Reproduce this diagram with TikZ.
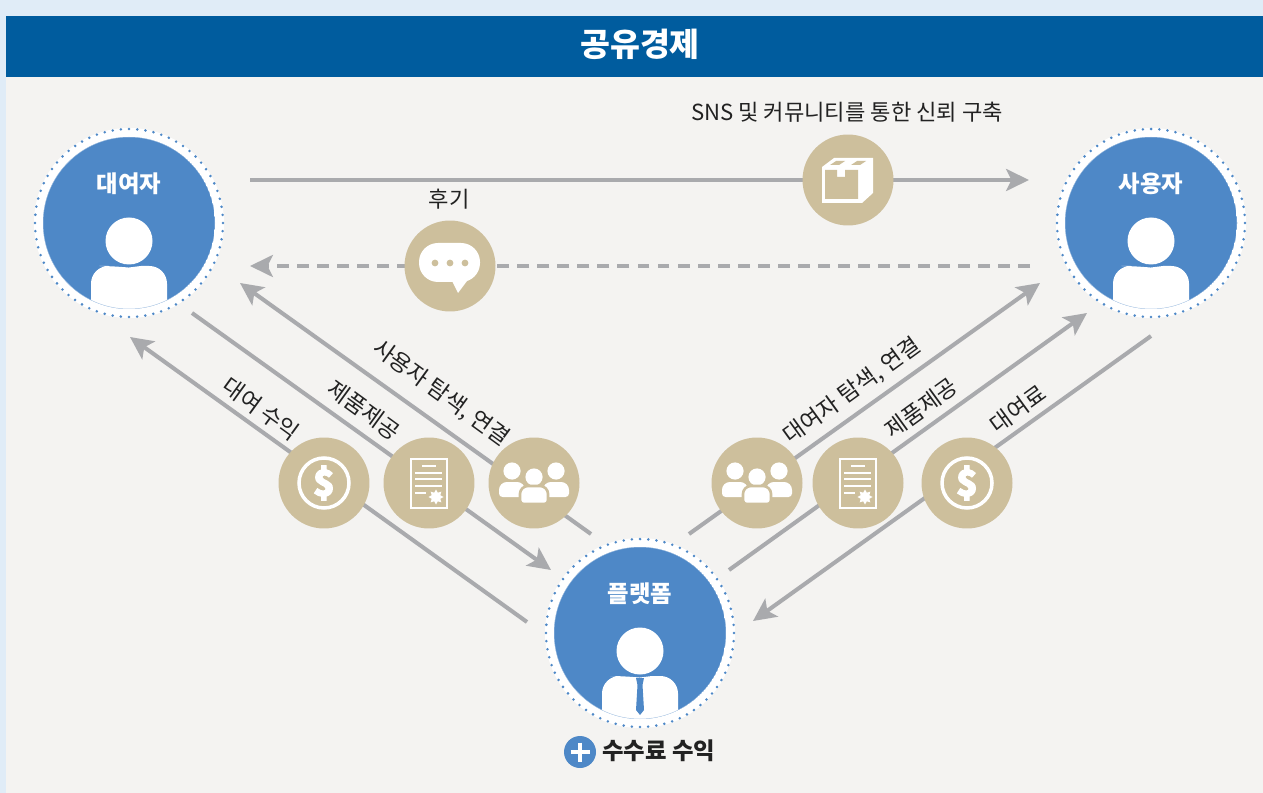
\documentclass[tikz,border=0pt]{standalone}
\usepackage{fontspec}
\setmainfont{Noto Sans CJK KR}
\newfontfamily\heavyfont[BoldFeatures={FakeBold=4}]{Noto Sans CJK KR}
\usetikzlibrary{arrows.meta,shapes.geometric}
\definecolor{pagecol}{HTML}{E0ECF7}
\definecolor{barcol}{HTML}{005C9E}
\definecolor{bodycol}{HTML}{F4F3F1}
\definecolor{bluecol}{HTML}{4E88C7}
\definecolor{tancol}{HTML}{CDBF9C}
\definecolor{linecol}{HTML}{A9AAAD}
\definecolor{inkcol}{HTML}{222222}
\tikzset{
 flow/.style={draw=linecol,line width=2.3pt,-{Stealth[length=13pt,width=12.5pt,inset=3pt]}},
 badge/.style={circle,fill=tancol,inner sep=0pt,minimum size=1.82cm},
 actor/.style={circle,fill=white,inner sep=0pt,minimum size=3.8cm},
 actorname/.style={text=white,font=\fontsize{13.3}{15}\selectfont\bfseries},
 tag/.style={text=inkcol,font=\fontsize{12.6}{15}\selectfont},
 slanted/.style={tag,font=\fontsize{12.9}{15}\selectfont},
 pics/person/.style={code={
   \begin{scope}
    \clip (0,0) circle (86);
    \fill[bluecol] (0,0) circle (86);
    \fill[white,rounded corners=10pt] (-38,95) -- (-38,43) -- (-12,43) [sharp corners] -- (0,44.5) -- (12,43)
     [rounded corners=10pt] -- (38,43) -- (38,95) -- cycle;
    \draw[bluecol!45,line width=.3pt] (0,0) circle (86);
   \end{scope}
   \fill[white] (0,18) circle (23.5);
 }},
 pics/manager/.style={code={
   \pic {person};
   \fill[bluecol] (-4,45) -- (4,45) -- (2.5,52) -- (4,77) -- (0,82) -- (-4,77) -- (-2.5,52) -- cycle;
 }},
 pics/dollar/.style={code={
   \draw[white,line width=2pt] (0,0) circle (25);
   \node[text=white,font=\fontsize{20}{20}\selectfont\heavyfont\bfseries] (dollarsign) at (0,0) {\$};
 }},
 pics/paper/.style={code={
   \draw[white,line width=1.4pt] (-18,-24) rectangle (18,25);
   \draw[white,line width=1.4pt] (-7,-17) -- (7,-17);
   \foreach \y in {-10,-4,3} \draw[white,line width=1.4pt] (-14,\y) -- (13,\y);
   \draw[white,line width=1.4pt] (-14,10) -- (-3,10);
   \node[star,star points=8,star point ratio=1.6,fill=white,inner sep=0pt,minimum size=.3cm] (seal) at (7,14) {};
 }},
 pics/crowd/.style={code={
   \foreach \x in {-22,22} {
    \fill[white] (\x,-12) circle (8.6);
    \fill[white,rounded corners=2pt] (\x-13,14) [rounded corners=4.5pt] -- (\x-13,-1) -- (\x+13,-1) [rounded corners=2pt] -- (\x+13,14) -- cycle;
   }
   \fill[white] (0,-6) circle (8.6);
   \draw[tancol,line width=1.5pt,fill=white,rounded corners=2pt] (-14,21) [rounded corners=4.5pt] -- (-14,3) -- (14,3) [rounded corners=2pt] -- (14,21) -- cycle;
 }},
 pics/parcel/.style={code={
   \fill[white] (-26,-13) -- (-14,-22) -- (25,-22) -- (25,13) -- (14,23) -- (-26,23) -- cycle;
   \fill[tancol] (-23,-10) -- (-11,-10) -- (-11,-3) -- (-3,-3) -- (-3,-10) -- (10,-10) -- (10,19) -- (-23,19) -- cycle;
   \fill[tancol] (-18,-15) -- (-12,-19) -- (-3,-19) -- (-9,-15) -- cycle;
   \fill[tancol] (3,-15) -- (9,-19) -- (18,-19) -- (12,-15) -- cycle;
 }},
 pics/bubble/.style={code={
   \fill[white,rounded corners=10.8pt] (-31,-23) rectangle (30,16);
   \fill[white] (2,15) -- (8,27) -- (17,15) -- cycle;
   \foreach \x in {-15,0,15} \fill[tancol] (\x,-3) circle (3.4);
 }}
}
\begin{document}
\begin{tikzpicture}[x=0.02cm,y=-0.02cm]
 \useasboundingbox (0,0) rectangle (1263,793);
 \fill[pagecol] (0,0) rectangle (1263,793);
 \fill[bodycol] (6,77) rectangle (1263,793);
 \fill[barcol] (6,16) rectangle (1263,77);
 \node[text=white,font=\fontsize{18.5}{22}\selectfont\bfseries] (title) at (640,44) {공유경제};

 % arrows first, the badges sit on top of them
 \foreach \n/\xa/\ya/\xb/\yb in
  {
    lend/250/180/1029/180, back/1030/266/250/266,
    gain/527/622/130/337, goods/192/313/551/570, find/591/534/240/283,
    seek/689/534/1040/283, stock/729/570/1087/313, fee/1151/336/753/621%
  }
  {
    \coordinate (\n-from) at (\xa,\ya);
    \coordinate (\n-to) at (\xb,\yb);
  }
 \foreach \n in {lend,gain,goods,find,seek,stock,fee}
  \draw[flow] (\n-from) -- (\n-to);
 \draw[flow,dash pattern=on 6.8pt off 4.6pt] (back-from) -- (back-to);

 \foreach \n/\x/\y/\i in
  {
    box/848/180/parcel, talk/450/266/bubble,
    moneyl/324/483/dollar, docl/429/483/paper, peoplel/534/483/crowd,
    peopler/757/483/crowd, docr/858/483/paper, moneyr/967/483/dollar%
  }
  {
    \node[badge] (\n) at (\x,\y) {};
    \pic at (\n) {\i};
  }

 \foreach \n/\x/\y/\i/\t in
  {
    lender/129/223/person/대여자, user/1151/223/person/사용자,
    platform/640/633/manager/플랫폼%
  }
  {
    \node[actor] (\n) at (\x,\y) {};
    \draw[bluecol,line width=1.6pt,line cap=round,dash pattern=on 0pt off 4.67pt] (\n) circle (94);
    \pic at (\n) {\i};
    \node[actorname] (\n-name) at (\x,\y-39) {\t};
  }

 \foreach \n/\x/\y/\r/\t in
  {
    tgain/261/409/-36/대여 수익, tgoods/364/410/-36/제품제공,
    tfind/441/393/-36/{사용자 탐색, 연결}, tseek/852/391/36/{대여자 탐색, 연결},
    tstock/921/408/36/제품제공, tfee/1018/409/36/대여료%
  }
  \node[slanted,rotate=\r] (\n) at (\x,\y) {\t};
 \node[tag] (tlend) at (847,112) {SNS 및 커뮤니티를 통한 신뢰 구축};
 \node[tag] (ttalk) at (449,199) {후기};

 \node[circle,fill=bluecol,inner sep=0pt,minimum size=.64cm] (plus) at (580,752) {};
 \draw[white,line width=2pt] (plus.center) +(-9.5,0) -- +(9.5,0) +(0,-9.5) -- +(0,9.5);
 \node[tag,font=\fontsize{13.3}{15}\selectfont\bfseries,anchor=west] (fees) at (596,751) {수수료 수익};
\end{tikzpicture}
\end{document}
